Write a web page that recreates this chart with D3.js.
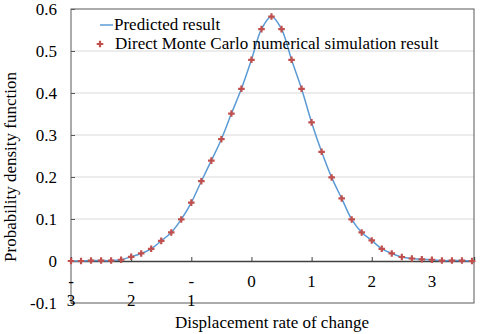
<!DOCTYPE html>
<html><head><meta charset="utf-8">
<script src="https://cdn.jsdelivr.net/npm/d3@7"></script>
<style>body{margin:0;background:#fff}svg{display:block}svg text{font-family:"Liberation Serif",serif}</style>
</head><body><svg id="c" width="480" height="334" font-family="Liberation Serif"></svg>
<script>
const xValues = [-3,-2.833,-2.667,-2.5,-2.333,-2.167,-2,-1.833,-1.667,-1.5,-1.333,-1.167,-1,-0.833,-0.667,-0.5,-0.333,-0.167,0,0.167,0.333,0.5,0.667,0.833,1,1.167,1.333,1.5,1.667,1.833,2,2.167,2.333,2.5,2.667,2.833,3,3.167,3.333,3.5,3.667];
const predicted = [0,0,0.001,0.001,0.001,0.003,0.01,0.018,0.029,0.048,0.068,0.099,0.139,0.19,0.239,0.29,0.351,0.41,0.479,0.552,0.582,0.552,0.479,0.41,0.33,0.26,0.199,0.149,0.099,0.068,0.049,0.029,0.018,0.0095,0.006,0.004,0.003,0.001,0.001,0.001,0];
const simulated = [0,0,0.001,0.001,0.001,0.003,0.01,0.018,0.029,0.048,0.068,0.099,0.139,0.19,0.239,0.29,0.351,0.41,0.479,0.552,0.582,0.552,0.479,0.41,0.33,0.26,0.199,0.149,0.099,0.068,0.049,0.029,0.018,0.0095,0.006,0.004,0.003,0.001,0.001,0.001,0];
const xTicks = [-3,-2,-1,0,1,2,3];
const xTickLabels = ["-3","-2","-1","0","1","2","3"];
const yTicks = [-0.1,0,0.1,0.2,0.3,0.4,0.5,0.6];
const yTickLabels = ["-0.1","0","0.1","0.2","0.3","0.4","0.5","0.6"];
const seriesNames = ["Predicted result","Direct Monte Carlo numerical simulation result"];

const FONT = "Liberation Serif";
const FS = 17;
const svg = d3.select("#c");
const L=71, R=474, T=9, B=303;
const x = d3.scaleLinear().domain([-3,3.7]).range([L,R]);
const y = d3.scaleLinear().domain([-0.1,0.6]).range([B,T]);

function txt(parent){ return parent.append("text").attr("font-family",FONT).attr("font-size",FS).attr("fill","#000"); }

// gridlines
svg.append("g").selectAll("line").data(yTicks.filter(v=>v>0&&v<0.6)).join("line")
  .attr("x1",L).attr("x2",R).attr("y1",d=>y(d)).attr("y2",d=>y(d))
  .attr("stroke","#d9d9d9").attr("stroke-width",1);

// border
svg.append("rect").attr("x",L).attr("y",T).attr("width",R-L).attr("height",B-T)
  .attr("fill","none").attr("stroke","#595959").attr("stroke-width",1);

// y axis
const ya = svg.append("g").attr("transform",`translate(${L},0)`)
  .call(d3.axisRight(y).tickValues(yTicks).tickSize(4).tickFormat(""));
ya.select(".domain").remove();
ya.selectAll("line").attr("stroke","#595959");
svg.append("g").selectAll("text").data(yTicks).join("text")
  .attr("font-family",FONT).attr("font-size",FS).attr("fill","#000")
  .attr("x",57).attr("y",d=>y(d)).attr("dy","0.35em").attr("text-anchor","end")
  .text((d,i)=>yTickLabels[i]);

// x axis at y=0
const xa = svg.append("g").attr("transform",`translate(0,${y(0)})`)
  .call(d3.axisTop(x).tickValues(xTicks).tickSize(4).tickFormat(""));
xa.select(".domain").attr("stroke","#404040").attr("stroke-width",1.3);
xa.selectAll("line").attr("stroke","#404040");
const xl = svg.append("g").selectAll("text").data(xTicks).join("text")
  .attr("font-family",FONT).attr("font-size",FS).attr("fill","#000")
  .attr("x",d=>x(d)).attr("text-anchor","middle");
xl.each(function(d,i){
  const t=d3.select(this); const s=xTickLabels[i];
  if(s.startsWith("-")){
    t.append("tspan").attr("x",x(d)).attr("y",287).text("-");
    t.append("tspan").attr("x",x(d)).attr("y",306).text(s.slice(1));
  } else {
    t.append("tspan").attr("x",x(d)).attr("y",287).text(s);
  }
});

// line
svg.append("path").datum(xValues.map((v,i)=>[v,predicted[i]]))
  .attr("fill","none").attr("stroke","#5b9bd5").attr("stroke-width",1.5)
  .attr("d",d3.line().x(d=>x(d[0])).y(d=>y(d[1])).curve(d3.curveCatmullRom));

// markers
const sym = d3.symbol().type(d3.symbolCross).size(24);
svg.append("g").selectAll("path").data(xValues.map((v,i)=>[v,simulated[i]])).join("path")
  .attr("d",sym).attr("transform",d=>`translate(${x(d[0])},${y(d[1])})`)
  .attr("fill","#c0504d");

// legend
svg.append("line").attr("x1",100).attr("x2",113).attr("y1",25).attr("y2",25)
  .attr("stroke","#5b9bd5").attr("stroke-width",1.5);
txt(svg).attr("x",114).attr("y",30).text(seriesNames[0]);
svg.append("path").attr("d",sym).attr("transform","translate(100,44)").attr("fill","#c0504d");
txt(svg).attr("x",115).attr("y",49).text(seriesNames[1]);

// axis titles
txt(svg).attr("x",272).attr("y",328).attr("text-anchor","middle")
  .text("Displacement rate of change");
txt(svg).attr("transform","translate(16,167) rotate(-90)").attr("text-anchor","middle")
  .text("Probability density function");
</script></body></html>
